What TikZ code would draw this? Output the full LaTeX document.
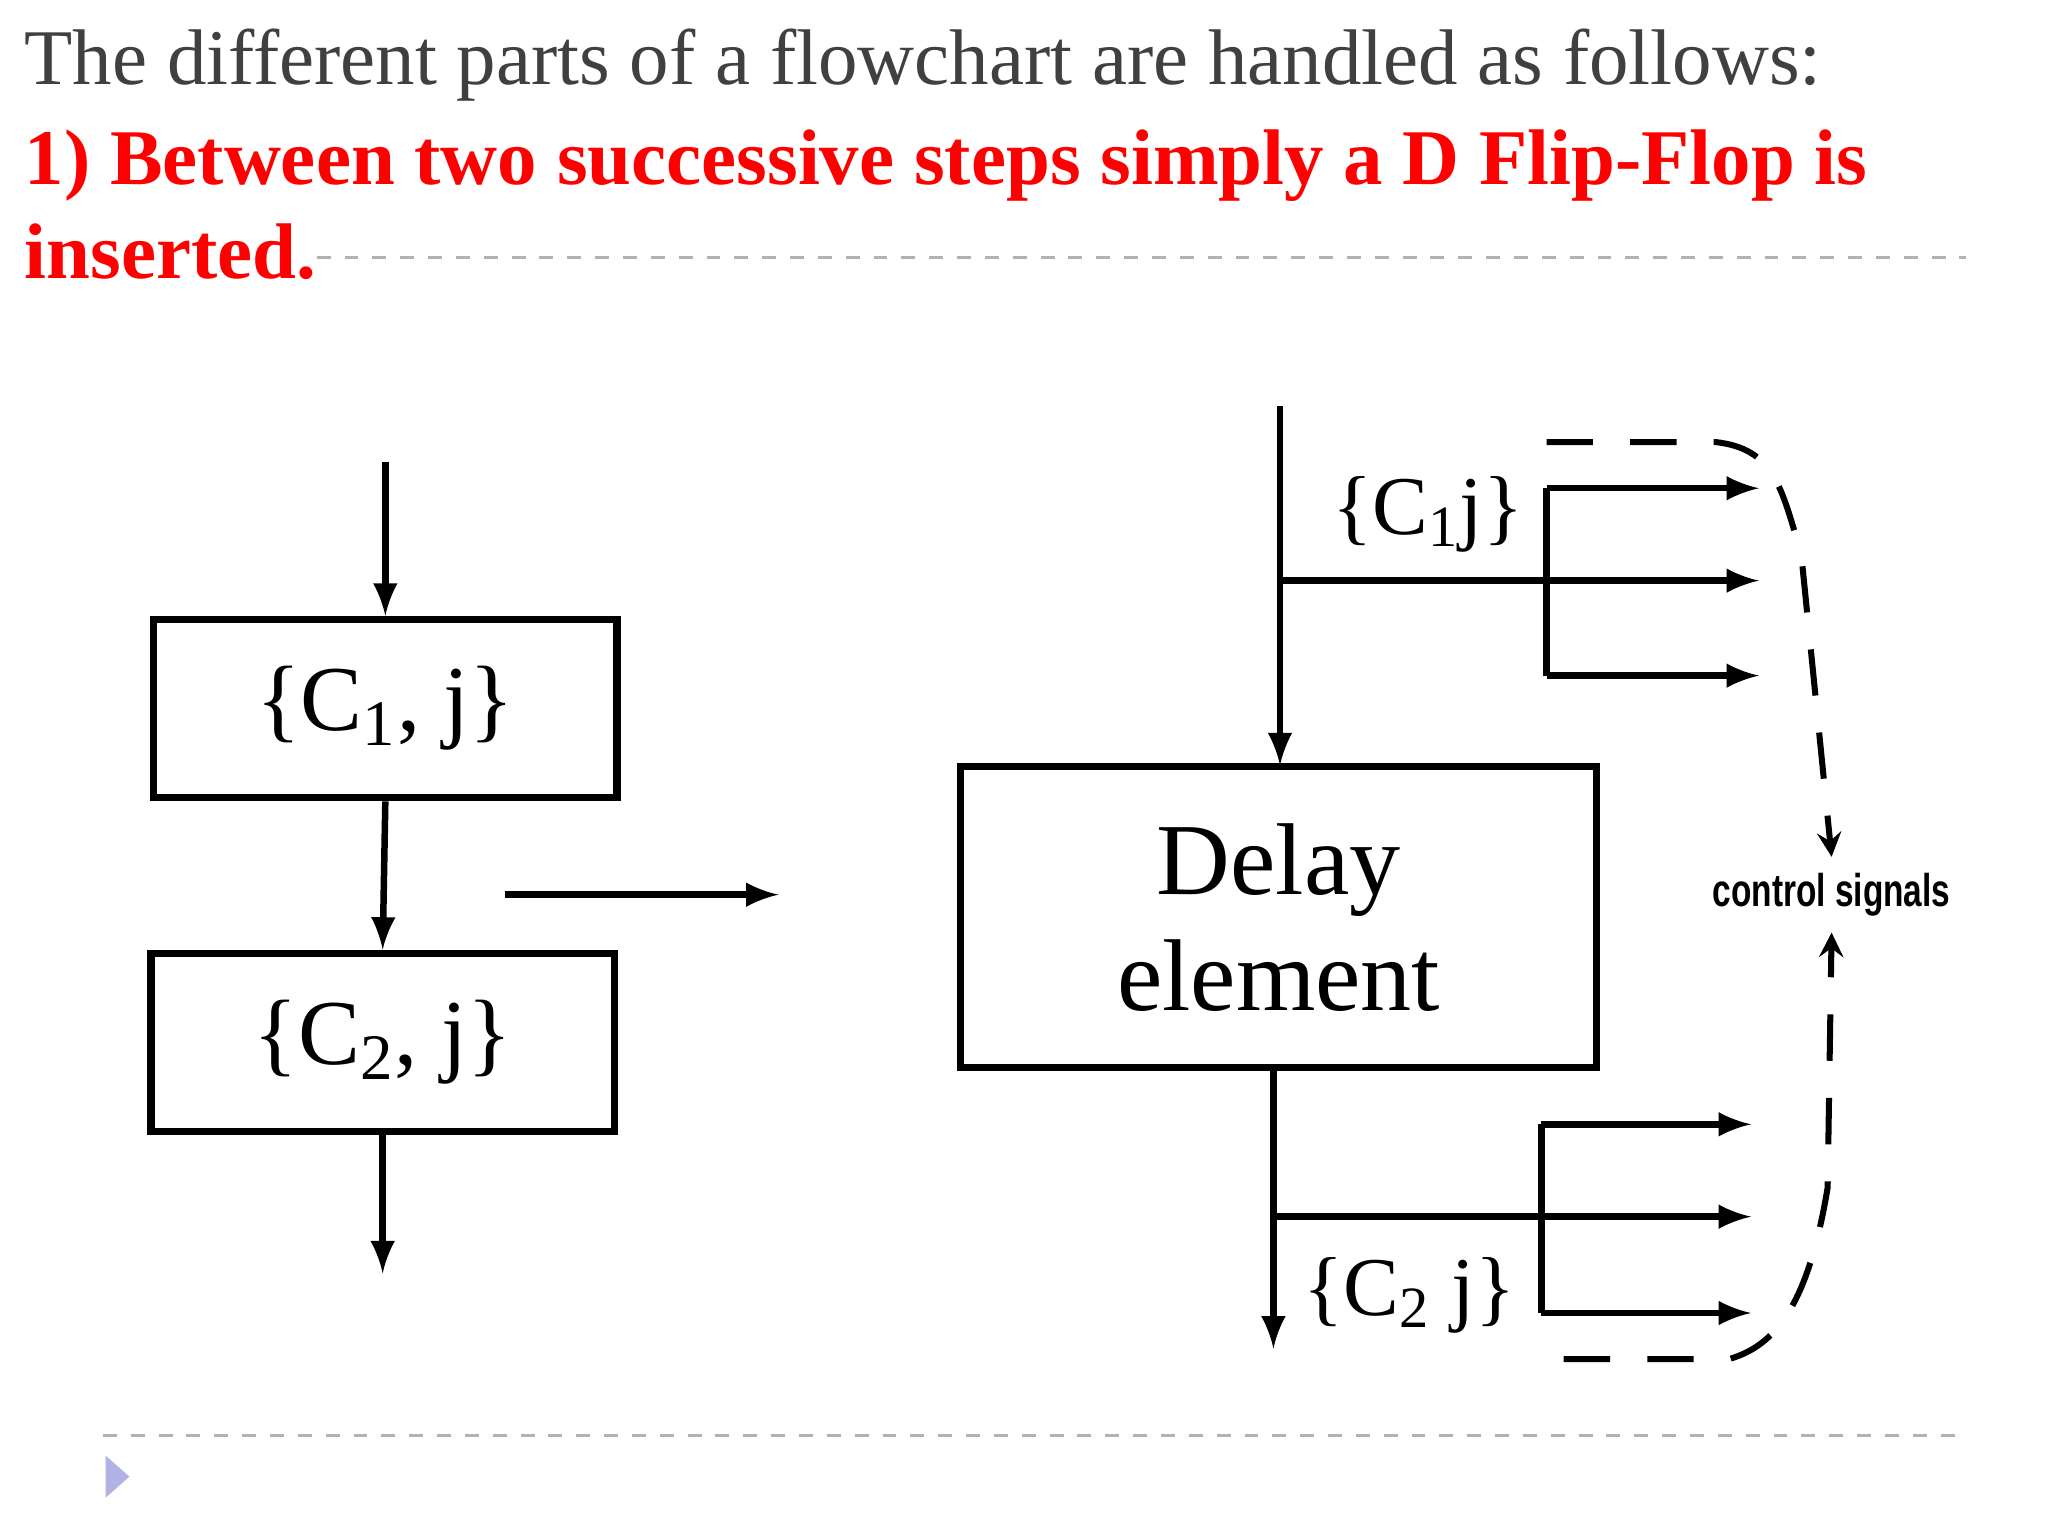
\documentclass[tikz,border=0pt]{standalone}
\usepackage{fontspec}
\setmainfont{Liberation Serif}
\setsansfont{Liberation Sans}
\begin{document}
\begin{tikzpicture}[x=0.01cm,y=-0.01cm,
  box/.style={draw,line width=1.6pt,inner sep=0pt},
  ln/.style={line width=1.4pt},
  arr/.style={ln,-latex},
  dsh/.style={line width=1.3pt,dash pattern=on 10pt off 8pt},
  sep/.style={draw=gray!60,dashed,line width=0.6pt}]
\useasboundingbox (0,0) rectangle (1552,1164);
\fill[white] (0,0) rectangle (1552,1164);
\node[anchor=base west,text=black!75,font=\fontsize{17}{20}\selectfont,inner sep=0] (t1) at (18,64) {The different parts of a flowchart are handled as follows:};
\node[anchor=base west,text=red,font=\fontsize{17}{20}\selectfont\bfseries,inner sep=0] (t2) at (18,140) {1) Between two successive steps simply a D Flip-Flop is};
\node[anchor=base west,text=red,font=\fontsize{17}{20}\selectfont\bfseries,inner sep=0] (t3) at (18,211) {inserted.};
\draw[sep] (240,195) -- (1490,195);
\draw[sep] (78,1088) -- (1490,1088);
\fill[gray!50!blue!40] (80,1103) -- (98,1119) -- (80,1135) -- cycle;
% left
\node[box,minimum width=351*0.01cm,minimum height=135*0.01cm,font=\fontsize{20}{24}\selectfont] (b1) at (292,537) {\{C\textsubscript{1}, j\}};
\node[box,minimum width=351*0.01cm,minimum height=135*0.01cm,font=\fontsize{20}{24}\selectfont] (b2) at (290,790) {\{C\textsubscript{2}, j\}};
\coordinate (s0) at (292,350);
\draw[arr] (s0) -- (b1.north);
\draw[arr] (b1.south) -- (b2.north);
\coordinate (e0) at (290,965);
\draw[arr] (b2.south) -- (e0);
\coordinate (m1) at (383,678); \coordinate (m2) at (590,678);
\draw[arr] (m1) -- (m2);
% right
\node[box,minimum width=482*0.01cm,minimum height=228*0.01cm,align=center,font=\fontsize{22}{25}\selectfont] (d) at (969,695) {Delay\\element};
\coordinate (r0) at (970,308);
\draw[arr] (r0) -- (970,580);
\draw[ln] (970,440) -- (1172,440) (1172,370) -- (1172,512);
\foreach \y/\n in {370/a1,440/a2,512/a3}{\coordinate (\n) at (1333,\y); \draw[arr] (1172,\y) -- (\n);}
\node[font=\fontsize{18}{20}\selectfont] (l1) at (1082,390) {\{C\textsubscript{1}j\}};
\draw[arr] (965,810) -- (965,1022);
\draw[ln] (965,922) -- (1168,922) (1168,852) -- (1168,995);
\foreach \y/\n in {852/c1,922/c2,995/c3}{\coordinate (\n) at (1327,\y); \draw[arr] (1168,\y) -- (\n);}
\node[font=\fontsize{18}{20}\selectfont] (l2) at (1068,982) {\{C\textsubscript{2} j\}};
\node[font=\sffamily\bfseries\fontsize{9}{11}\selectfont] (cs) at (1388,678) {\scalebox{0.8}[1.1]{control signals}};
\draw[dsh,-stealth] (1172,335) -- (1300,335) .. controls (1345,340) and (1350,370) .. (1365,420) -- (cs.north);
\draw[dsh,-stealth] (1185,1030) -- (1310,1030) .. controls (1345,1020) and (1370,990) .. (1385,900) -- (cs.south);
\end{tikzpicture}
\end{document}
